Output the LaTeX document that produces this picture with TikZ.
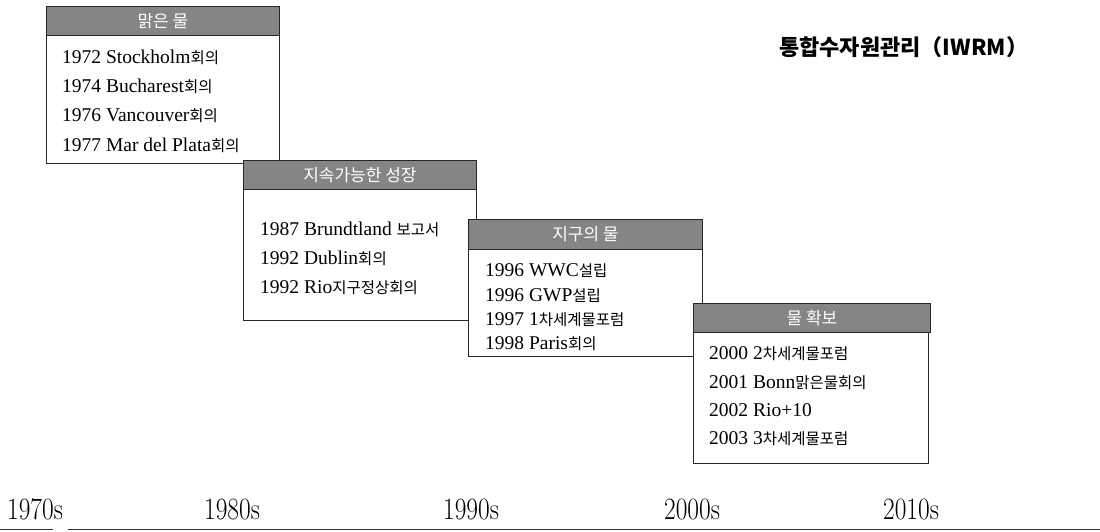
\documentclass[tikz,border=0pt]{standalone}
\usepackage{fontspec}
\usepackage{graphicx}
\newfontfamily\kr{Noto Sans CJK KR}
\newfontfamily\itemfont{Liberation Serif}
\newcommand\K[1]{{\kr\fontsize{15.5}{15.5}\selectfont #1}}
\tikzset{
  boxbody/.style={draw=black!85, line width=0.9pt, fill=white, anchor=north west, inner sep=0pt},
  boxhead/.style={draw=black!85, line width=0.9pt, fill=black!48, anchor=north west, inner sep=0pt},
  headtext/.style={text=white, font=\kr\fontsize{17}{17}\selectfont},
  item/.style={anchor=base west, inner sep=0pt, font=\itemfont\fontsize{19.5}{19.5}\selectfont},
  decade/.style={anchor=base, inner sep=0pt, font=\fontsize{31}{31}\selectfont},
  axis/.style={line width=1.4pt, black!80}
}
\begin{document}
\begin{tikzpicture}[x=1pt,y=-1pt]
\useasboundingbox (0,0) rectangle (1100,531);
% ---- box 1
\node[boxbody, minimum width=233, minimum height=128] (body1) at (46,35) {};
\node[boxhead, minimum width=233, minimum height=29] (head1) at (46,6) {};
\node[headtext] (t1) at (head1.center) {맑은 물};
\node[item] (a1) at (62,63) {1972 Stockholm\K{회의}};
\node[item] (a2) at (62,92) {1974 Bucharest\K{회의}};
\node[item] (a3) at (62,121) {1976 Vancouver\K{회의}};
\node[item] (a4) at (62,151) {1977 Mar del Plata\K{회의}};
% ---- box 2
\node[boxbody, minimum width=233, minimum height=131] (body2) at (243,189) {};
\node[boxhead, minimum width=233, minimum height=29] (head2) at (243,160) {};
\node[headtext] (t2) at (head2.center) {지속가능한 성장};
\node[item] (b1) at (260,235) {1987 Brundtland \K{보고서}};
\node[item] (b2) at (260,264) {1992 Dublin\K{회의}};
\node[item] (b3) at (260,293) {1992 Rio\K{지구정상회의}};
% ---- box 3
\node[boxbody, minimum width=234, minimum height=107] (body3) at (468,249) {};
\node[boxhead, minimum width=234, minimum height=30] (head3) at (468,219) {};
\node[headtext] (t3) at (head3.center) {지구의 물};
\node[item] (c1) at (485,276) {1996 WWC\K{설립}};
\node[item] (c2) at (485,301) {1996 GWP\K{설립}};
\node[item] (c3) at (485,325) {1997 1\K{차세계물포럼}};
\node[item] (c4) at (485,349) {1998 Paris\K{회의}};
% ---- box 4
\node[boxbody, minimum width=235, minimum height=131] (body4) at (693,332) {};
\node[boxhead, minimum width=237, minimum height=29] (head4) at (693,303) {};
\node[headtext] (t4) at (head4.center) {물 확보};
\node[item] (d1) at (709,359) {2000 2\K{차세계물포럼}};
\node[item] (d2) at (709,388) {2001 Bonn\K{맑은물회의}};
\node[item] (d3) at (709,416) {2002 Rio+10};
\node[item] (d4) at (709,444) {2003 3\K{차세계물포럼}};
% ---- title
\node[anchor=west, inner sep=0pt, font=\kr\bfseries\fontsize{22}{22}\selectfont] (title) at (779,47) {통합수자원관리（IWRM）};
% ---- timeline
\node[decade] (y70) at (35,519) {\scalebox{0.82}[1]{1970s}};
\node[decade] (y80) at (232,519) {\scalebox{0.82}[1]{1980s}};
\node[decade] (y90) at (471,519) {\scalebox{0.82}[1]{1990s}};
\node[decade] (y00) at (692,519) {\scalebox{0.82}[1]{2000s}};
\node[decade] (y10) at (911,519) {\scalebox{0.82}[1]{2010s}};
\coordinate (l0) at (0,529.5);
\coordinate (l1) at (53,529.5);
\coordinate (l2) at (68,529.5);
\coordinate (l3) at (1100,529.5);
\draw[axis] (l0) -- (l1);
\draw[axis] (l2) -- (l3);
\end{tikzpicture}
\end{document}
